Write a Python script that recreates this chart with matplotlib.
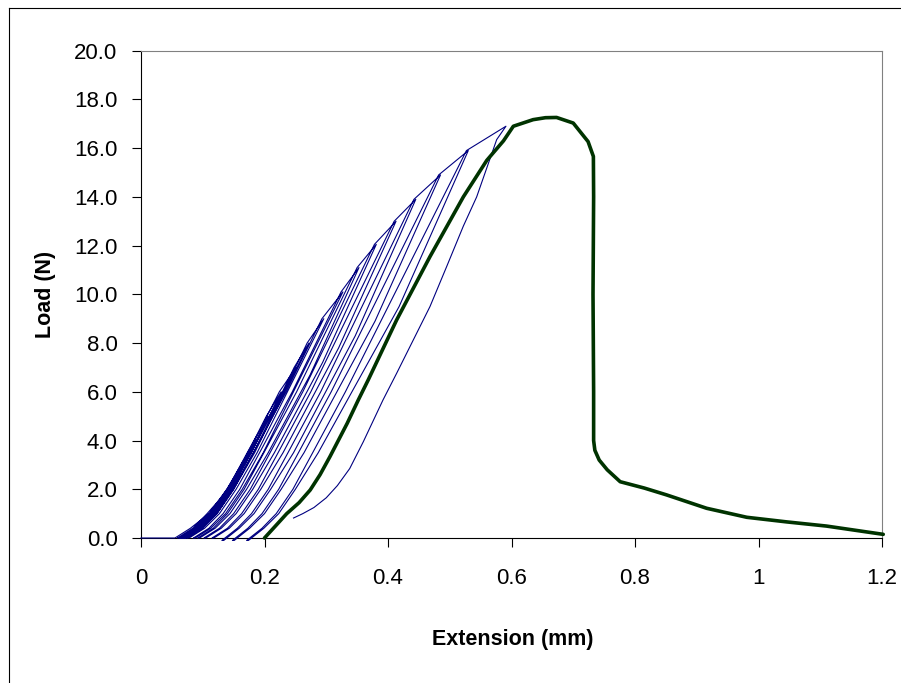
import matplotlib
matplotlib.use('Agg')
import matplotlib.pyplot as plt
from matplotlib.lines import Line2D

plt.rcParams['font.family'] = ['Liberation Sans', 'DejaVu Sans']

# ---------------- data ----------------
# cyclic loading: peak of each cycle
peak_load = [1.0, 2.0, 3.0, 4.0, 5.0, 6.0, 7.0, 8.0, 9.0, 10.1, 11.1, 12.05,
             13.0, 13.9, 14.9, 15.9, 16.9]
peak_ext = [0.110, 0.142, 0.165, 0.186, 0.206, 0.227, 0.251, 0.272, 0.296,
            0.327, 0.353, 0.381, 0.413, 0.445, 0.485, 0.530, 0.591]

# loading branch of each cycle: extension at fixed load levels
toe_levels = [0.0, 0.4, 1.0, 2.0, 3.5, 6.0]
load_start_load = [0, 0, 0, 0, 0, 0, 0, 0, 0, 0, 0, 0, 0, 0, -0.1, -0.1, -0.1]
load_ext_0N = [0.055, 0.059, 0.062, 0.064, 0.065, 0.066, 0.067, 0.069, 0.071,
               0.075, 0.085, 0.092, 0.102, 0.115, 0.131, 0.148, 0.171]
load_ext_04N = [0.080, 0.084, 0.087, 0.089, 0.090, 0.091, 0.092, 0.094, 0.096,
                0.100, 0.110, 0.117, 0.127, 0.140, 0.156, 0.173, 0.196]
load_ext_1N = [0.103, 0.107, 0.110, 0.112, 0.113, 0.114, 0.115, 0.117, 0.119,
               0.123, 0.133, 0.140, 0.150, 0.163, 0.179, 0.196, 0.219]
load_ext_2N = [0.130, 0.134, 0.137, 0.139, 0.140, 0.141, 0.142, 0.144, 0.146,
               0.150, 0.160, 0.167, 0.177, 0.190, 0.206, 0.223, 0.246]
load_ext_35N = [0.162, 0.166, 0.169, 0.171, 0.172, 0.173, 0.174, 0.176, 0.178,
                0.182, 0.192, 0.199, 0.209, 0.222, 0.238, 0.255, 0.278]
load_ext_6N = [0.215, 0.219, 0.222, 0.224, 0.225, 0.226, 0.227, 0.229, 0.231,
               0.235, 0.245, 0.252, 0.262, 0.275, 0.291, 0.308, 0.331]
# where each reloading passes the previous peak load (cycles 2..17)
reload_pass_ext = [0.107, 0.139, 0.162, 0.183, 0.203, 0.224, 0.248, 0.269,
                   0.293, 0.324, 0.350, 0.378, 0.410, 0.442, 0.482, 0.527]

# unloading branch of cycles 1..16
unload_mid_load = [None, None, None, None, None, None, None, None, None, None,
                   6.7, 7.2, 7.8, 8.3, 8.9, 9.5]
unload_mid_ext = [None, None, None, None, None, None, None, None, None, None,
                  0.274, 0.294, 0.320, 0.347, 0.379, 0.418]
unload_ext_35N = [0.171, 0.174, 0.176, 0.177, 0.178, 0.179, 0.182, 0.184,
                  0.188, 0.198, 0.206, 0.216, 0.230, 0.247, 0.264, 0.287]
unload_ext_2N = [0.138, 0.141, 0.143, 0.144, 0.145, 0.146, 0.148, 0.150,
                 0.154, 0.164, 0.171, 0.181, 0.194, 0.210, 0.227, 0.250]
unload_ext_1N = [0.111, 0.114, 0.116, 0.117, 0.118, 0.119, 0.121, 0.123,
                 0.127, 0.137, 0.144, 0.154, 0.167, 0.183, 0.200, 0.223]
unload_ext_04N = [0.087, 0.090, 0.092, 0.093, 0.094, 0.095, 0.097, 0.099,
                  0.103, 0.113, 0.120, 0.130, 0.143, 0.159, 0.176, 0.199]
unload_end_ext = [0.062, 0.065, 0.067, 0.068, 0.069, 0.070, 0.072, 0.074,
                  0.078, 0.088, 0.095, 0.105, 0.118, 0.134, 0.151, 0.174]
unload_end_load = [0, 0, 0, 0, 0, 0, 0, 0, 0, 0, 0, 0, 0, -0.1, -0.1, -0.1]

# last unloading (cycle 17)
final_unload_ext = [0.576, 0.5436, 0.522, 0.495, 0.468, 0.441, 0.414, 0.392,
                    0.360, 0.338, 0.318, 0.300, 0.280, 0.262, 0.247]
final_unload_load = [16.35, 14.0, 12.8, 11.14, 9.5, 8.13, 6.76, 5.67,
                     3.95, 2.85, 2.15, 1.65, 1.25, 1.0, 0.82]

# final test to failure
green_ext = [0.200, 0.218, 0.236, 0.256, 0.274, 0.290, 0.306, 0.334, 0.352,
             0.368, 0.414, 0.468, 0.522, 0.560, 0.587, 0.603, 0.635, 0.655,
             0.673, 0.700, 0.724, 0.7326, 0.733, 0.732, 0.733, 0.733, 0.735,
             0.742, 0.755, 0.776, 0.815, 0.851, 0.916, 0.981, 1.046, 1.110,
             1.202]
green_load = [0.0, 0.5, 1.0, 1.45, 1.97, 2.6, 3.34, 4.71, 5.67,
              6.49, 8.95, 11.55, 14.0, 15.5, 16.3, 16.9, 17.17, 17.25,
              17.26, 17.03, 16.27, 15.66, 14.0, 10.0, 6.0, 4.0, 3.6,
              3.2, 2.8, 2.31, 2.05, 1.77, 1.22, 0.85, 0.66, 0.49,
              0.15]

x_ticks = [0, 0.2, 0.4, 0.6, 0.8, 1.0, 1.2]
x_tick_labels = ['0', '0.2', '0.4', '0.6', '0.8', '1', '1.2']
y_ticks = [0, 2, 4, 6, 8, 10, 12, 14, 16, 18, 20]
x_label = 'Extension (mm)'
y_label = 'Load (N)'

# ---------------- build cyclic path ----------------
load_cols = [load_ext_0N, load_ext_04N, load_ext_1N, load_ext_2N,
             load_ext_35N, load_ext_6N]
unload_levels = [3.5, 2.0, 1.0, 0.4]
unload_cols = [unload_ext_35N, unload_ext_2N, unload_ext_1N, unload_ext_04N]

bx, by = [0.0], [0.0]
n = len(peak_load)
for k in range(n):
    limit = (peak_load[k - 1] if k > 0 else peak_load[0]) - 0.25
    for lvl, col in zip(toe_levels, load_cols):
        if lvl < limit:
            bx.append(col[k])
            by.append(load_start_load[k] if lvl == 0 else lvl)
    if k > 0:
        bx.append(reload_pass_ext[k - 1])
        by.append(peak_load[k - 1])
    bx.append(peak_ext[k])
    by.append(peak_load[k])
    if k < n - 1:
        P = peak_load[k]
        if unload_mid_load[k] is not None:
            bx.append(unload_mid_ext[k])
            by.append(unload_mid_load[k])
        for lvl, col in zip(unload_levels, unload_cols):
            if lvl < P - 0.4:
                bx.append(col[k])
                by.append(lvl)
        bx.append(unload_end_ext[k])
        by.append(unload_end_load[k])
    else:
        bx.extend(final_unload_ext)
        by.extend(final_unload_load)

# ---------------- figure ----------------
W, H = 901, 683
fig = plt.figure(figsize=(W / 100, H / 100), dpi=100)
fig.patch.set_facecolor('white')
left, right, top, bottom = 141, 882, 50.7, 538
ax = fig.add_axes([left / W, 1 - bottom / H, (right - left) / W, (bottom - top) / H])

ax.plot(bx, by, color='#000080', lw=0.8, clip_on=False, zorder=3,
        solid_joinstyle='round')
ax.plot(green_ext, green_load, color='#003300', lw=2.6, clip_on=False,
        zorder=4, solid_joinstyle='round', solid_capstyle='round')

ax.set_xlim(0, 1.2)
ax.set_ylim(0, 20)
ax.set_xticks(x_ticks)
ax.set_xticklabels(x_tick_labels)
ax.set_yticks(y_ticks)
ax.set_yticklabels([f'{v:.1f}' for v in y_ticks])

for s in ['left', 'bottom']:
    ax.spines[s].set_color('black')
    ax.spines[s].set_linewidth(0.8)
for s in ['top', 'right']:
    ax.spines[s].set_color('#808080')
    ax.spines[s].set_linewidth(0.8)

ax.tick_params(axis='both', direction='out', length=6.5, width=0.8,
               colors='black', labelsize=16)
ax.tick_params(axis='y', pad=10.4)
ax.tick_params(axis='x', pad=15)

fig.text(513 / W, 1 - 645 / H, x_label, ha='center', va='baseline',
         fontsize=15.5, fontweight='bold')
fig.text(45 / W, 1 - 294 / H, y_label, ha='center', va='center',
         rotation=90, fontsize=15.5, fontweight='bold')

# outer chart frame (partially cropped in the reference)
fig.add_artist(Line2D([8.5 / W, 8.5 / W], [0, 1 - 7.5 / H],
                      transform=fig.transFigure, color='black', lw=0.8))
fig.add_artist(Line2D([8.5 / W, 1], [1 - 7.5 / H, 1 - 7.5 / H],
                      transform=fig.transFigure, color='black', lw=0.8))

fig.savefig('out.png', dpi=100)
